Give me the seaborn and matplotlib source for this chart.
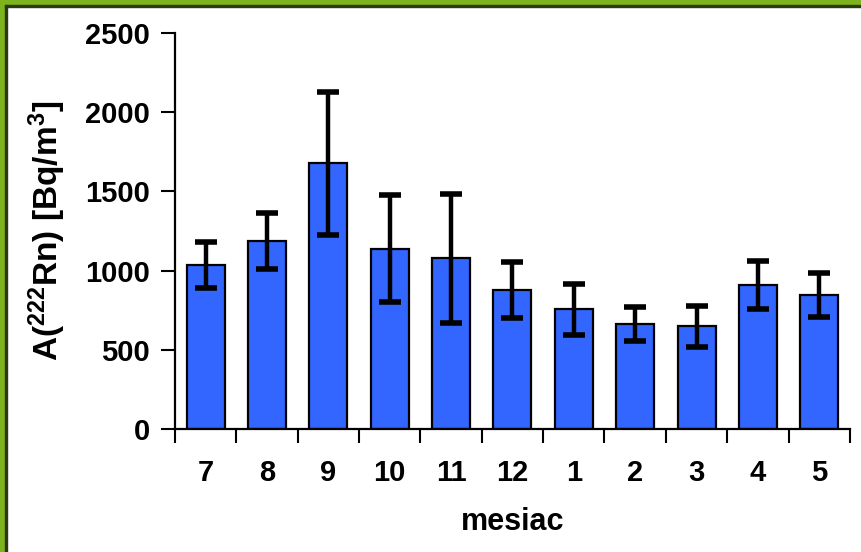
import pandas as pd
import seaborn as sns
import matplotlib.pyplot as plt
from matplotlib.patches import Rectangle

months = ["7", "8", "9", "10", "11", "12", "1", "2", "3", "4", "5"]
activity = [1035, 1187, 1677, 1138, 1077, 877, 756, 663, 648, 909, 848]
activity_err = [147, 178, 454, 338, 408, 178, 161, 107, 131, 153, 139]
y_ticks = [0, 500, 1000, 1500, 2000, 2500]

df = pd.DataFrame({"mesiac": months, "A": activity, "err": activity_err})

sns.set_style("ticks")
plt.rcParams["font.family"] = ["Liberation Sans", "DejaVu Sans"]
plt.rcParams["font.weight"] = "bold"
plt.rcParams["mathtext.fontset"] = "custom"
plt.rcParams["mathtext.bf"] = "Liberation Sans:bold"
plt.rcParams["mathtext.rm"] = "Liberation Sans:bold"
plt.rcParams["mathtext.default"] = "bf"
for key in ["text.color", "axes.labelcolor", "xtick.color", "ytick.color"]:
    plt.rcParams[key] = "black"

fig = plt.figure(figsize=(8.62, 5.52), dpi=100)
ax = fig.add_axes([0.203, 0.223, 0.783, 0.717])

sns.barplot(data=df, x="mesiac", y="A", order=months, color="#3366FF",
            saturation=1, edgecolor="black", linewidth=1.6, width=0.62,
            errorbar=None, ax=ax)
ax.errorbar(range(len(months)), df["A"], yerr=df["err"], fmt="none",
            ecolor="black", elinewidth=3.2, capsize=8, capthick=4)

ax.set_xlim(-0.5, len(months) - 0.5)
ax.set_ylim(0, 2500)
ax.set_yticks(y_ticks)
ax.set_xticks([i - 0.5 for i in range(len(months) + 1)], minor=True)
ax.tick_params(axis="x", which="major", length=0, pad=22, labelsize=21)
ax.tick_params(axis="x", which="minor", length=10, width=1.5)
ax.tick_params(axis="y", length=10, width=1.5, pad=8, labelsize=21)
for lab in ax.get_xticklabels() + ax.get_yticklabels():
    lab.set_fontweight("bold")

ax.set_xlabel("mesiac", fontsize=22, fontweight="bold", labelpad=14)
ax.set_ylabel(r"A($^{222}$Rn) [Bq/m$^{3}$]", fontsize=24, fontweight="bold", labelpad=12)

for side in ["top", "right"]:
    ax.spines[side].set_visible(False)
for side in ["left", "bottom"]:
    ax.spines[side].set_linewidth(1.6)
    ax.spines[side].set_color("black")

# frame on left and top edge of the picture
W, H = 862, 552
fig.patches.append(Rectangle((0, 0), 5 / W, 1, transform=fig.transFigure,
                             color="#7DB31C", zorder=10))
fig.patches.append(Rectangle((0, 1 - 5 / H), 1, 5 / H, transform=fig.transFigure,
                             color="#7DB31C", zorder=10))
fig.patches.append(Rectangle((5 / W, 0), 2 / W, 1 - 5 / H, transform=fig.transFigure,
                             color="#2B3A10", zorder=10))
fig.patches.append(Rectangle((5 / W, 1 - 7 / H), 1, 2 / H, transform=fig.transFigure,
                             color="#2B3A10", zorder=10))

fig.savefig("out.png", dpi=100)
